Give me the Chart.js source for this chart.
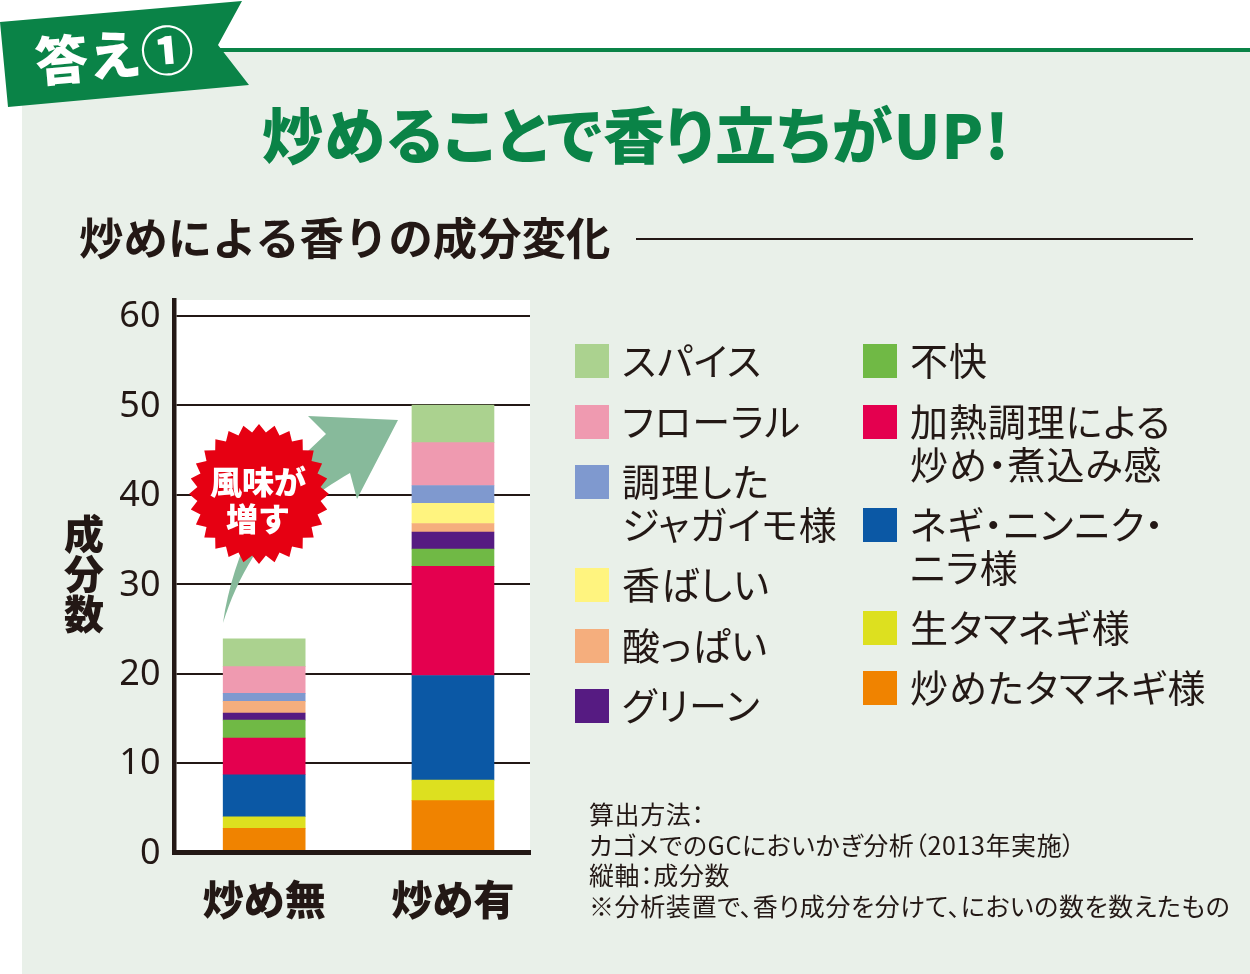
<!DOCTYPE html>
<html lang="ja">
<head>
<meta charset="utf-8">
<script src="https://cdn.jsdelivr.net/npm/chart.js@4"></script>
<style>
html, body { margin: 0; padding: 0; background: #fff; }
body { width: 1250px; height: 974px; position: relative; overflow: hidden;
  font-family: "Noto Sans CJK JP", "Noto Sans", sans-serif; color: #231815; }
#panel { position: absolute; left: 22px; top: 52px; right: 0; bottom: 0; background: #e9f0e9; }
#rule { position: absolute; left: 220px; top: 48px; right: 0; height: 4px; background: #0a8347; }
#wrap { position: absolute; left: 0; top: 0; width: 1250px; height: 974px; }
#deco { position: absolute; left: 0; top: 0; }
.t { position: absolute; white-space: nowrap; line-height: 1; }
#answer { left: 35px; top: 33px; font-size: 53px; font-weight: 900; color: #fff; transform: rotate(-5deg); transform-origin: left center; }
#title { left: 262px; top: 102px; font-size: 61px; font-weight: 900; color: #0a8347; letter-spacing: 1.3px; font-feature-settings: "palt"; }
#sub { left: 79px; top: 214px; font-size: 44.4px; font-weight: 700; }
#subline { position: absolute; left: 636px; top: 238px; width: 557px; height: 2px; background: #231815; }
#ytitle { left: 64px; top: 512px; width: 40px; font-size: 40px; font-weight: 900; white-space: normal; text-align: center; line-height: 40px; }
.burst { left: 190px; width: 136px; font-size: 32px; font-weight: 900; color: #fff; text-align: center; }
.sw { position: absolute; width: 34px; height: 34px; }
.lg { position: absolute; font-size: 38px; line-height: 43px; white-space: pre; font-weight: 400; letter-spacing: 0.9px; font-feature-settings: "palt"; }
#note { left: 589px; top: 798px; font-size: 25px; line-height: 30.7px; white-space: pre; letter-spacing: 0.6px; font-feature-settings: "palt"; }
</style>
</head>
<body>
<div id="panel"></div>
<div id="rule"></div>
<div id="wrap"><canvas id="myChart" width="1250" height="974"></canvas></div>
<svg id="deco" width="1250" height="974">
  <polygon points="0,22 242,1 218,45 249,85 8,107" fill="#0a8347"/>
  <path id="arrow" fill="#87ba9b" d="M223,623 C232,560 262,492 307,452 L326,434 L308,416 L398,420 L357,499 L350,473 C320,490 280,520 253,557 C240,578 230,600 223,623 Z"/>
  <polygon id="star" fill="#e60012"/>
</svg>
<div class="t" id="answer">答え①</div>
<div class="t" id="title">炒めることで香り立ちがUP!</div>
<div class="t" id="sub">炒めによる香りの成分変化</div>
<div id="subline"></div>
<div class="t" id="ytitle">成分数</div>
<div class="t burst" style="top:464px">風味が</div>
<div class="t burst" style="top:501px">増す</div>
<div id="legend"></div>
<div class="t" id="note"></div>
<script>
const categories = ['炒め無', '炒め有'];
const yTicks = [0, 10, 20, 30, 40, 50, 60];

// bottom to top of the stack
const seriesNames = ['炒めたタマネギ様', '生タマネギ様', 'ネギ・ニンニク・\nニラ様', '加熱調理による\n炒め・煮込み感', '不快', 'グリーン', '酸っぱい', '香ばしい', '調理した\nジャガイモ様', 'フローラル', 'スパイス'];
const friedOnion = [2.7, 5.8];
const rawOnion = [1.3, 2.3];
const negi = [4.7, 11.7];
const heated = [4.1, 12.2];
const unpleasant = [2.0, 1.95];
const green = [0.8, 1.9];
const sour = [1.3, 0.95];
const roasted = [0, 2.25];
const potato = [0.9, 2.0];
const floral = [3.0, 4.8];
const spice = [3.1, 4.2];

const seriesValues = [friedOnion, rawOnion, negi, heated, unpleasant, green, sour, roasted, potato, floral, spice];
const seriesColors = ['#f08300', '#dde01f', '#0b58a5', '#e4004f', '#70b945', '#561b82', '#f5ae7d', '#fff47f', '#7f99cf', '#ef9ab0', '#abd28f'];

const noteLines = ['算出方法：', 'カゴメでのGCにおいかぎ分析（2013年実施）', '縦軸：成分数', '※分析装置で、香り成分を分けて、においの数を数えたもの'];
document.getElementById('note').textContent = noteLines.join('\n');

// legend slots, same order as seriesNames
const legendSlots = [[863, 671], [863, 611], [863, 508], [863, 405], [863, 344], [575, 689], [575, 629], [575, 568], [575, 465], [575, 405], [575, 344]];
const legendBox = document.getElementById('legend');
seriesNames.forEach((name, i) => {
  const sw = document.createElement('div');
  sw.className = 'sw';
  sw.style.left = legendSlots[i][0] + 'px';
  sw.style.top = legendSlots[i][1] + 'px';
  sw.style.background = seriesColors[i];
  legendBox.appendChild(sw);
  const lb = document.createElement('div');
  lb.className = 'lg';
  lb.style.left = (legendSlots[i][0] + 47) + 'px';
  lb.style.top = (legendSlots[i][1] - 7) + 'px';
  lb.textContent = name;
  legendBox.appendChild(lb);
});

// starburst behind the 風味が増す text
const pts = [];
const teeth = 28;
for (let i = 0; i < teeth * 2; i++) {
  const r = i % 2 ? 62 : 70;
  const a = Math.PI * i / teeth;
  pts.push((259 + r * Math.cos(a)).toFixed(1) + ',' + (494 + r * Math.sin(a)).toFixed(1));
}
document.getElementById('star').setAttribute('points', pts.join(' '));

const plotBackground = {
  id: 'plotBackground',
  beforeDraw(chart) {
    const a = chart.chartArea;
    chart.ctx.fillStyle = '#fff';
    chart.ctx.fillRect(a.left, a.top, a.right - a.left, a.bottom - a.top);
  }
};

const myChart = new Chart(document.getElementById('myChart'), {
  type: 'bar',
  plugins: [plotBackground],
  data: {
    datasets: seriesNames.map((name, i) => ({
      label: name,
      backgroundColor: seriesColors[i],
      borderWidth: 0,
      barThickness: 82,
      data: seriesValues[i].map((v, c) => ({ x: c, y: v }))
    }))
  },
  options: {
    responsive: false,
    animation: false,
    layout: { padding: { top: 300, right: 720, left: 0, bottom: 0 } },
    plugins: { legend: { display: false }, tooltip: { enabled: false } },
    scales: {
      x: {
        type: 'linear',
        stacked: true,
        offset: false,
        min: -0.475,
        max: 1.408,
        afterFit(s) { s.height = 121.5; },
        afterBuildTicks(s) { s.ticks = categories.map((c, i) => ({ value: i })); },
        grid: { display: false, drawTicks: false },
        border: { display: true, color: '#231815', width: 5, z: 1 },
        ticks: {
          padding: 22,
          color: '#231815',
          maxRotation: 0,
          autoSkip: false,
          font: { family: '"Noto Sans CJK JP"', size: 41, weight: '900' },
          callback: v => categories[v]
        }
      },
      y: {
        stacked: true,
        min: 0,
        max: 61.8,
        afterFit(s) { s.width = 174.5; },
        afterBuildTicks(s) { s.ticks = yTicks.map(v => ({ value: v })); },
        grid: { color: '#231815', lineWidth: 2, drawTicks: false },
        border: { display: true, color: '#231815', width: 4.5 },
        ticks: {
          padding: 14,
          labelOffset: 1,
          color: '#231815',
          font: { family: '"Noto Sans"', size: 36 },
          callback: v => v
        }
      }
    }
  }
});
</script>
</body>
</html>
